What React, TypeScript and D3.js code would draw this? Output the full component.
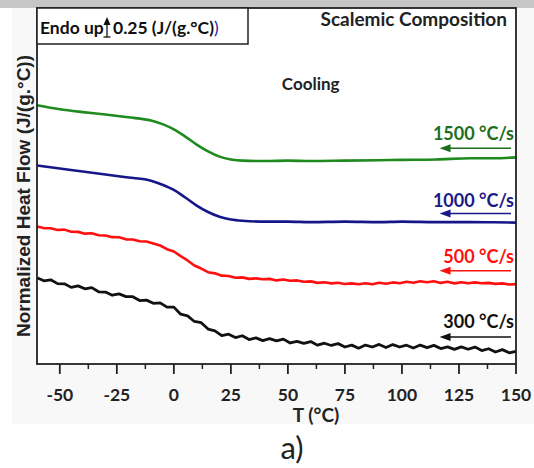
import React from 'react';
import * as d3 from 'd3';

// temperature grid of the smooth runs
const tSmooth = [-60, -50, -40, -30, -20, -10, -5, 0, 5, 10, 15, 20, 25, 30, 40, 50, 60, 75, 90, 100, 115, 130, 140, 150];
const hf1500 = [3.225, 3.175, 3.14, 3.11, 3.075, 3.035, 2.99, 2.925, 2.835, 2.735, 2.65, 2.585, 2.55, 2.535, 2.53, 2.535, 2.53, 2.535, 2.54, 2.545, 2.55, 2.565, 2.565, 2.575];
const hf1000 = [2.475, 2.4375, 2.4, 2.3625, 2.325, 2.285, 2.235, 2.17, 2.075, 1.975, 1.895, 1.835, 1.8, 1.785, 1.775, 1.775, 1.769, 1.775, 1.769, 1.775, 1.769, 1.769, 1.766, 1.7625];

// noisy runs, sampled every 3 °C from -60 to 150
const tNoisy = d3.range(-60, 151, 3);
const hf500 = [1.713, 1.694, 1.692, 1.670, 1.675, 1.649, 1.647, 1.625, 1.630, 1.605, 1.602, 1.581, 1.580, 1.554, 1.552, 1.530, 1.526, 1.501, 1.477, 1.431, 1.402, 1.344, 1.291, 1.227, 1.190, 1.144, 1.130, 1.101, 1.097, 1.076, 1.080, 1.061, 1.067, 1.056, 1.061, 1.042, 1.054, 1.037, 1.042, 1.025, 1.030, 1.011, 1.019, 1.005, 1.012, 0.997, 1.005, 0.994, 1.006, 0.995, 1.012, 1.000, 1.017, 1.006, 1.025, 1.012, 1.031, 1.019, 1.032, 1.011, 1.025, 1.005, 1.019, 1.006, 1.017, 1.007, 1.011, 0.999, 1.005, 0.991, 0.996];
const hf300 = [1.075, 1.037, 1.049, 1.002, 1.000, 0.955, 0.974, 0.937, 0.952, 0.900, 0.897, 0.857, 0.874, 0.840, 0.839, 0.791, 0.796, 0.756, 0.762, 0.709, 0.709, 0.621, 0.600, 0.530, 0.515, 0.435, 0.412, 0.354, 0.372, 0.330, 0.352, 0.305, 0.326, 0.291, 0.317, 0.289, 0.310, 0.262, 0.282, 0.256, 0.279, 0.235, 0.259, 0.231, 0.254, 0.212, 0.235, 0.197, 0.236, 0.212, 0.244, 0.206, 0.242, 0.212, 0.234, 0.199, 0.236, 0.204, 0.232, 0.192, 0.214, 0.182, 0.214, 0.184, 0.211, 0.168, 0.190, 0.149, 0.179, 0.139, 0.156];

const xTicks = [-50, -25, 0, 25, 50, 75, 100, 125, 150];
const runLabels = ['1500 °C/s', '1000 °C/s', '500 °C/s', '300 °C/s'];
const runColors = ['#1f8b1f', '#16168a', '#ff1010', '#111111'];
const labelColors = ['#1c6e1c', '#1a1a86', '#ff1010', '#111111'];
const labelValues = [2.79, 1.96, 1.26, 0.45];
const arrowValues = [2.69, 1.875, 1.1625, 0.3375];

const W = 534, H = 468;
const margin = { top: 8, right: 18, bottom: 104, left: 37 };
const font = 'Lato, "Open Sans", sans-serif';

const App = () => {
  const x = d3.scaleLinear().domain([-60, 150]).range([margin.left, W - margin.right]);
  const y = d3.scaleLinear().domain([0, 4.4375]).range([H - margin.bottom, margin.top]);

  const series = [
    { pts: tSmooth.map((t, i) => [t, hf1500[i]]), curve: d3.curveMonotoneX, w: 2.6 },
    { pts: tSmooth.map((t, i) => [t, hf1000[i]]), curve: d3.curveMonotoneX, w: 2.6 },
    { pts: tNoisy.map((t, i) => [t, hf500[i]]), curve: d3.curveLinear, w: 2.6 },
    { pts: tNoisy.map((t, i) => [t, hf300[i]]), curve: d3.curveLinear, w: 2.8 },
  ];

  const minorTicks = xTicks.slice(0, -1).map(t => t + 12.5);
  const x0 = x.range()[0], x1 = x.range()[1];
  const yB = y.range()[0], yT = y.range()[1];
  const barLen = y(0) - y(0.25);

  return (
    <svg width={W} height={H} style={{ position: 'absolute', left: 0, top: 0 }} fontFamily={font}>
      <rect x={0} y={0} width={W} height={H} fill="#ffffff" />
      <rect x={12} y={8} width={W - 12} height={416} fill="#f8f8f8" />
      <rect x={0} y={0} width={W} height={8} fill="#c6c6c6" />
      <rect x={x0} y={yT} width={x1 - x0} height={yB - yT} fill="#ffffff" />

      {series.map((s, i) => (
        <path key={i}
          d={d3.line().x(d => x(d[0])).y(d => y(d[1])).curve(s.curve)(s.pts as [number, number][]) || ''}
          fill="none" stroke={runColors[i]} strokeWidth={s.w} strokeLinejoin="round" />
      ))}

      {runLabels.map((lab, i) => {
        const ay = y(arrowValues[i]);
        return (
          <g key={lab} fill={labelColors[i]}>
            <text x={x1 - 2} y={y(labelValues[i])} textAnchor="end" fontSize={18} fontWeight="bold">{lab}</text>
            <line x1={x(119)} x2={x1 - 5} y1={ay} y2={ay} stroke={labelColors[i]} strokeWidth={1.5} />
            <path d={`M${x(116.5)},${ay} l11,-4 l0,8 z`} />
          </g>
        );
      })}

      <rect x={x0} y={yT} width={x1 - x0} height={yB - yT} fill="none" stroke="#222" strokeWidth={1.8} />

      {xTicks.map(t => (
        <g key={t}>
          <line x1={x(t)} x2={x(t)} y1={yB} y2={yB + 10} stroke="#222" strokeWidth={1.8} />
          <text x={x(t)} y={401} textAnchor="middle" fontSize={17.5} fontWeight="bold" fill="#222">{t}</text>
        </g>
      ))}
      {minorTicks.map(t => (
        <line key={t} x1={x(t)} x2={x(t)} y1={yB} y2={yB + 5} stroke="#222" strokeWidth={1.5} />
      ))}

      <text x={316} y={422} textAnchor="middle" fontSize={19} fontWeight="bold" fill="#222">T (°C)</text>
      <text x={292} y={459} textAnchor="middle" fontSize={31} fill="#222">a)</text>

      <text transform={`translate(30,196) rotate(-90)`} textAnchor="middle"
        fontFamily='"Liberation Sans", Arial, sans-serif' fontSize={19} fontWeight="bold" fill="#222">
        Normalized Heat Flow (J/(g.°C))
      </text>

      <text x={x1 - 9} y={26} textAnchor="end" fontSize={19} fontWeight="bold" fill="#222">Scalemic Composition</text>
      <text x={x(60)} y={90} textAnchor="middle" fontSize={17} fontWeight="bold" fill="#222">Cooling</text>

      <g>
        <rect x={x0} y={yT} width={211} height={36} fill="#ffffff" stroke="#222" strokeWidth={1.5} />
        <text x={40} y={34} fontSize={17.5} fontWeight="bold" fill="#111">Endo up</text>
        <line x1={107} x2={107} y1={37} y2={37 - barLen + 4} stroke="#111" strokeWidth={1.3} />
        <path d={`M${107},${37 - barLen} l-3.5,8 l7,0 z`} fill="#111" />
        <line x1={103.5} x2={110.5} y1={37} y2={37} stroke="#111" strokeWidth={1.3} />
        <text x={113} y={34} fontSize={17.5} fontWeight="bold" fill="#111">
          0.25 (J/(g.°C)<tspan fill="#2525b0" fontWeight="normal">)</tspan>
        </text>
      </g>
    </svg>
  );
};

export default App;
